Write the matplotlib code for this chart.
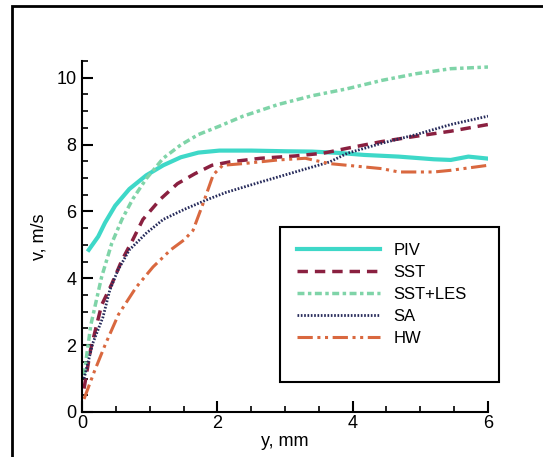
import numpy as np
import matplotlib
matplotlib.use('Agg')
import matplotlib.pyplot as plt
from matplotlib.patches import Rectangle
from matplotlib.ticker import MultipleLocator

plt.rcParams['font.family'] = ['Liberation Sans', 'DejaVu Sans']

# velocity profiles, y in mm, v in m/s
piv_y = [0.1, 0.24, 0.34, 0.49, 0.7, 0.95, 1.2, 1.46, 1.72, 2.03, 2.5, 3.0, 3.4, 3.8, 4.17, 4.68, 5.2, 5.45, 5.71, 6.0]
piv_v = [4.85, 5.25, 5.66, 6.17, 6.67, 7.08, 7.38, 7.62, 7.76, 7.82, 7.82, 7.8, 7.79, 7.75, 7.69, 7.64, 7.56, 7.54, 7.64, 7.58]

sst_y = [0.03, 0.13, 0.29, 0.44, 0.59, 0.75, 0.9, 1.16, 1.41, 1.67, 1.92, 2.18, 2.64, 3.15, 3.56, 3.92, 4.43, 4.94, 5.45, 6.0]
sst_v = [0.7, 1.9, 3.2, 3.83, 4.54, 5.15, 5.76, 6.37, 6.83, 7.13, 7.38, 7.48, 7.59, 7.66, 7.74, 7.89, 8.09, 8.25, 8.4, 8.6]

les_y = [0.03, 0.13, 0.29, 0.44, 0.59, 0.75, 0.95, 1.2, 1.46, 1.72, 2.03, 2.38, 2.9, 3.4, 3.92, 4.43, 4.94, 5.45, 6.0]
les_v = [1.1, 2.6, 4.04, 5.05, 5.76, 6.37, 6.98, 7.59, 7.99, 8.3, 8.55, 8.85, 9.2, 9.46, 9.67, 9.92, 10.12, 10.27, 10.32]

sa_y = [0.03, 0.16, 0.31, 0.41, 0.53, 0.7, 0.95, 1.2, 1.51, 1.87, 2.13, 2.64, 3.15, 3.66, 3.92, 4.43, 4.94, 5.45, 6.0]
sa_v = [1.0, 2.06, 2.84, 3.64, 4.24, 4.85, 5.35, 5.76, 6.06, 6.37, 6.57, 6.88, 7.18, 7.48, 7.74, 8.04, 8.3, 8.6, 8.85]

hw_y = [0.03, 0.18, 0.34, 0.54, 0.8, 1.05, 1.31, 1.51, 1.64, 1.79, 1.94, 2.08, 2.38, 2.9, 3.3, 3.66, 3.92, 4.43, 4.68, 5.2, 5.45, 6.0]
hw_v = [0.39, 1.2, 2.0, 2.92, 3.73, 4.34, 4.85, 5.15, 5.43, 6.24, 7.1, 7.38, 7.43, 7.54, 7.59, 7.43, 7.38, 7.28, 7.18, 7.18, 7.23, 7.38]

fig = plt.figure(figsize=(5.43, 4.57), dpi=100)
ax = fig.add_axes([82/543, 45/457, 406/543, 351/457])

ax.plot(piv_y, piv_v, color='#3ed8c8', lw=3, ls='-', label='PIV')
ax.plot(sst_y, sst_v, color='#8a2040', lw=2.5, ls=(0, (3, 2)), label='SST')
ax.plot(les_y, les_v, color='#7fd4a8', lw=2.5, ls=(0, (2, 1, 1, 1)), label='SST+LES')
ax.plot(sa_y, sa_v, color='#262a5a', lw=2, ls=(0, (0.6, 0.6)), label='SA')
ax.plot(hw_y, hw_v, color='#d9683f', lw=2.2, ls=(0, (5, 1.5, 1, 1.5, 1, 1.5)), label='HW')

ax.set_xlim(0, 6)
ax.set_ylim(0, 10.5)
ax.spines['top'].set_visible(False)
ax.spines['right'].set_visible(False)
ax.spines['left'].set_linewidth(1.5)
ax.spines['bottom'].set_linewidth(1.5)
ax.xaxis.set_major_locator(MultipleLocator(2))
ax.xaxis.set_minor_locator(MultipleLocator(0.5))
ax.yaxis.set_major_locator(MultipleLocator(2))
ax.yaxis.set_minor_locator(MultipleLocator(0.5))
ax.tick_params(which='major', direction='in', length=8, width=1.5, labelsize=13)
ax.tick_params(which='minor', direction='in', length=4, width=1.2)
ax.tick_params(axis='y', pad=4)
ax.tick_params(axis='x', pad=2)

ax.set_xlabel('y, mm', fontsize=13, labelpad=1)
ax.set_ylabel('v, m/s', fontsize=13, labelpad=6)

# legend text and handles, frame drawn separately
leg = ax.legend(loc='upper left', bbox_to_anchor=(297/543, (457-243)/457),
                bbox_transform=fig.transFigure, fontsize=12, frameon=False,
                handlelength=5.0, handletextpad=0.8, labelspacing=0.42,
                borderpad=0, borderaxespad=0)
fig.patches.append(Rectangle((280/543, (457-382)/457), 219/543, 155/457,
                             transform=fig.transFigure, fill=True, facecolor='white',
                             edgecolor='black', lw=1.5, zorder=0.5))
ax.set_zorder(1)
ax.patch.set_alpha(0)

# screenshot border
fig.patches.append(Rectangle((12/543, -0.05), 1.0, (457-6)/457 + 0.05,
                             transform=fig.transFigure, fill=False,
                             edgecolor='black', lw=2))

fig.savefig('out.png', dpi=100)
